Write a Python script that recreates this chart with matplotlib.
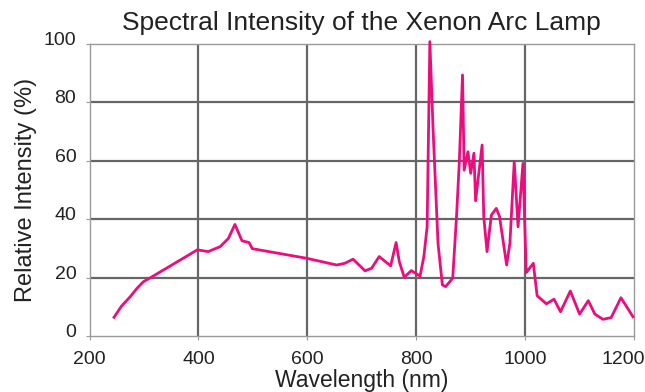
import matplotlib as mpl
import matplotlib.pyplot as plt
from matplotlib.transforms import ScaledTranslation

mpl.rcParams["font.family"] = ["Liberation Sans", "DejaVu Sans"]

# spectrum (nm, % relative intensity)
wavelength = [245, 259, 275, 287, 299, 315, 398, 418, 440, 455, 467, 480, 493, 499,
              599, 654, 669, 684, 706, 718, 732, 753, 763, 769, 778, 791, 807, 814,
              820, 825, 831, 840, 848, 854, 867, 874, 879, 885, 888, 895, 900, 906,
              909, 921, 924, 930, 938, 947, 953, 966, 972, 980, 987, 996, 1002, 1015,
              1022, 1039, 1053, 1065, 1083, 1100, 1116, 1128, 1143, 1158, 1176, 1198]
intensity = [6.4, 10.3, 13.5, 16.3, 18.6, 20.3, 29.5, 28.9, 30.6, 33.4, 38.2, 32.6, 32.0, 29.9,
             26.6, 24.3, 24.9, 26.3, 22.3, 23.2, 27.2, 24.0, 32.0, 25.4, 20.1, 22.4, 20.5, 27.2,
             37.4, 100.8, 70.5, 31.7, 17.5, 16.9, 19.8, 40.9, 59.1, 89.4, 56.8, 63.1, 55.7, 62.6,
             46.3, 65.4, 40.9, 28.9, 41.4, 43.7, 40.9, 24.3, 31.7, 59.7, 37.4, 59.1, 21.7, 24.9,
             13.8, 11.0, 12.6, 8.3, 15.4, 7.5, 12.1, 7.5, 5.7, 6.3, 13.1, 6.6]

x_ticks = [200, 400, 600, 800, 1000, 1200]
y_ticks = [0, 20, 40, 60, 80, 100]

fig = plt.figure(figsize=(6.45, 3.92), dpi=100)
ax = fig.add_axes([0.1388, 0.1429, 0.983 - 0.1388, 0.8878 - 0.1429])

# interior grid only, spines stay light
for xv in x_ticks[1:-1]:
    ax.axvline(xv, color="#666666", lw=1.6, zorder=1)
for yv in y_ticks[1:-1]:
    ax.axhline(yv, color="#666666", lw=1.6, zorder=1)

ax.plot(wavelength, intensity, color="#EC0C7E", lw=2.0, zorder=3, clip_on=False)

ax.set_xlim(200, 1200)
ax.set_ylim(0, 100)
ax.set_xticks(x_ticks)
ax.set_yticks(y_ticks)
for sp in ax.spines.values():
    sp.set_color("#9a9a9a")
    sp.set_linewidth(1.0)
ax.tick_params(length=3, width=0.8, color="#9a9a9a", labelsize=14,
               labelcolor="#222222")
ax.tick_params(axis="y", pad=6.5)
ax.tick_params(axis="x", pad=7.5)

# y labels sit a little above their gridlines
up = ScaledTranslation(0, 4 / 72, fig.dpi_scale_trans)
for lab in ax.get_yticklabels():
    lab.set_transform(lab.get_transform() + up)
# last x label pulled in so it stays on the canvas
left = ScaledTranslation(-7.5 / 72, 0, fig.dpi_scale_trans)
last = ax.get_xticklabels()[-1]
last.set_transform(last.get_transform() + left)

ax.set_xlabel("Wavelength (nm)", fontsize=16.5, color="#222222", labelpad=1)
ax.set_ylabel("Relative Intensity (%)", fontsize=17, color="#222222", labelpad=5)
ax.set_title("Spectral Intensity of the Xenon Arc Lamp", fontsize=19,
             color="#222222", pad=10)

fig.savefig("out.png", dpi=100)
